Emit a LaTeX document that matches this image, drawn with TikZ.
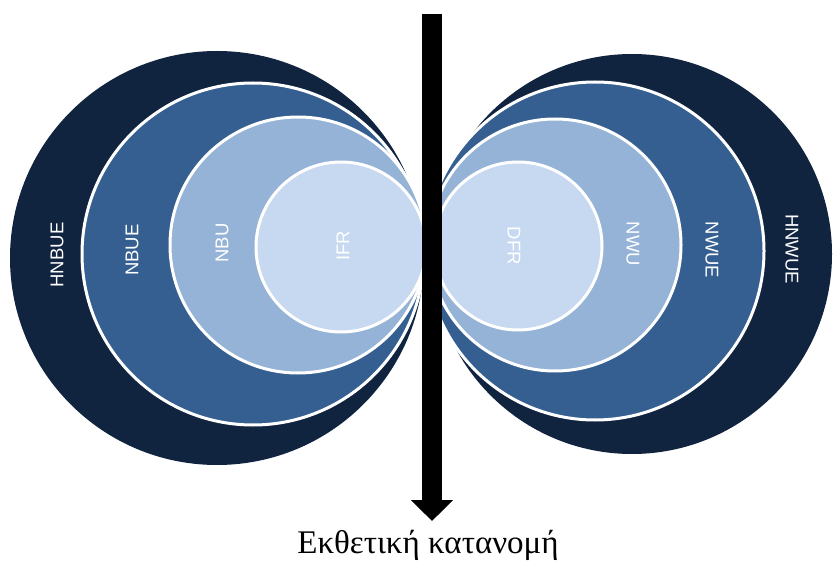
\documentclass[tikz,border=0pt]{standalone}
\usepackage{fontspec}
\setmainfont{Liberation Serif}
\newfontfamily\ringfont{Liberation Sans}
\usetikzlibrary{arrows.meta}
\definecolor{ringdark}{HTML}{10233F}
\definecolor{ringmid}{HTML}{365F91}
\definecolor{ringlight}{HTML}{95B3D7}
\definecolor{ringpale}{HTML}{C6D9F1}

\begin{document}
\begin{tikzpicture}[x=1pt, y=-1pt,
    disc/.style={circle, inner sep=0pt, minimum size=#1},
    ring/.style={circle, inner sep=0pt, draw=white, line width=3pt, minimum size=#1},
    lbl/.style={text=white, font=\ringfont\fontsize{18.5}{18.5}\selectfont},
    arr/.style={line width=20pt, -{Triangle[length=21pt, width=41pt]}}
]
\useasboundingbox (0,0) rectangle (835,561);

\node[disc=414pt, fill=ringdark] (hnbue) at (217,258) {};
\node[ring=342pt, fill=ringmid] (nbue) at (253,254) {};
\node[ring=256pt, fill=ringlight] (nbu) at (298,245) {};
\node[ring=170pt, fill=ringpale] (ifr) at (341,247) {};

\node[disc=400pt, fill=ringdark] (hnwue) at (632,254) {};
\node[ring=338pt, fill=ringmid] (nwue) at (595,251) {};
\node[ring=252pt, fill=ringlight] (nwu) at (555,245) {};
\node[ring=168pt, fill=ringpale] (dfr) at (518,246) {};

\node[lbl, rotate=90] (lhnbue) at (57,255) {HNBUE};
\node[lbl, rotate=90] (lnbue) at (132,250) {NBUE};
\node[lbl, rotate=90] (lnbu) at (222,243) {NBU};
\node[lbl, rotate=90] (lifr) at (343,246) {IFR};

\node[lbl, rotate=-90] (ldfr) at (514,246) {DFR};
\node[lbl, rotate=-90] (lnwu) at (633,244) {NWU};
\node[lbl, rotate=-90] (lnwue) at (712,250) {NWUE};
\node[lbl, rotate=-90] (lhnwue) at (792,249) {HNWUE};

\coordinate (top) at (432,14);
\coordinate (tip) at (432,521);
\draw[arr] (top) -- (tip);

\node[anchor=base, font=\fontsize{33}{33}\selectfont] (caption) at (428,553) {Εκθετική κατανομή};
\end{tikzpicture}
\end{document}
